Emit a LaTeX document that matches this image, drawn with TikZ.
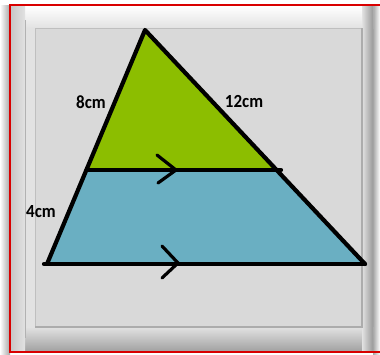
\documentclass[tikz,border=0pt]{standalone}
\usepackage{fontspec}
\setmainfont{Carlito}
\usetikzlibrary{calc}
\begin{document}
\begin{tikzpicture}[x=1pt,y=-1pt,
  edge/.style={line width=4.2pt,line cap=round,line join=round},
  chev/.style={line width=3.2pt,line cap=round},
  lbl/.style={font=\bfseries\fontsize{18.5}{18.5}\selectfont,inner sep=0pt,xscale=0.92}]
\definecolor{leaf}{HTML}{8CBE00}
\definecolor{sea}{HTML}{6AAFC2}
\definecolor{panel}{HTML}{D9D9D9}
\definecolor{bevel}{HTML}{E2E2E2}
\useasboundingbox (0,0) rectangle (380,354);
\fill[white] (0,0) rectangle (380,354);
% left shadow
\shade[left color=white,right color=gray!70] (0,5) rectangle (10,354);
% right shadow
\shade[left color=gray!70,right color=white] (373,5) rectangle (380,354);
% outer bevel plate
\fill[bevel] (10,5) rectangle (373,352);
\shade[top color=white,bottom color=bevel] (10,6) rectangle (373,28);
\shade[top color=bevel,bottom color=gray!75] (10,327) rectangle (373,352);
\shade[left color=bevel,right color=gray!80] (362,6) rectangle (373,352);
\shade[left color=gray!45,right color=bevel] (10,6) rectangle (25,352);
\draw[gray!60,line width=0.8pt] (25,20) -- (25,338);
% inner panel
\fill[panel] (35,28) rectangle (362,327);
\draw[gray!50,line width=1pt] (35,327) -- (35,28) -- (362,28);
\draw[gray!65,line width=1.5pt] (362,28) -- (362,327) -- (35,327);
% red frame
\draw[red!85!black,line width=1.6pt] (380,5) -- (10,5) -- (10,352) -- (380,352);
% figure
\coordinate (A) at (145,30);
\coordinate (B) at (47,264);
\coordinate (C) at (365,264);
\coordinate (D) at (86.5,170);
\coordinate (E) at (276.5,170);
\coordinate (B0) at (44,264);
\coordinate (E1) at (281,170);
\fill[sea] (D) -- (E) -- (C) -- (B) -- cycle;
\fill[leaf] (A) -- (D) -- (E) -- cycle;
\draw[edge] (B) -- (A) -- (C);
\draw[edge] (D) -- (E1);
\draw[edge] (B0) -- (C);
% parallel marks
\coordinate (m1) at (176,170);
\coordinate (m2) at (178,263);
\draw[chev] ($(m1)+(-19,-15)$) -- (m1) -- ($(m1)+(-18,13)$);
\draw[chev] ($(m2)+(-16,-17)$) -- (m2) -- ($(m2)+(-16,15)$);
% labels
\node[lbl] (l8) at (91,102) {8cm};
\node[lbl] (l12) at (244,101) {12cm};
\node[lbl] (l4) at (41,212) {4cm};
\end{tikzpicture}
\end{document}
